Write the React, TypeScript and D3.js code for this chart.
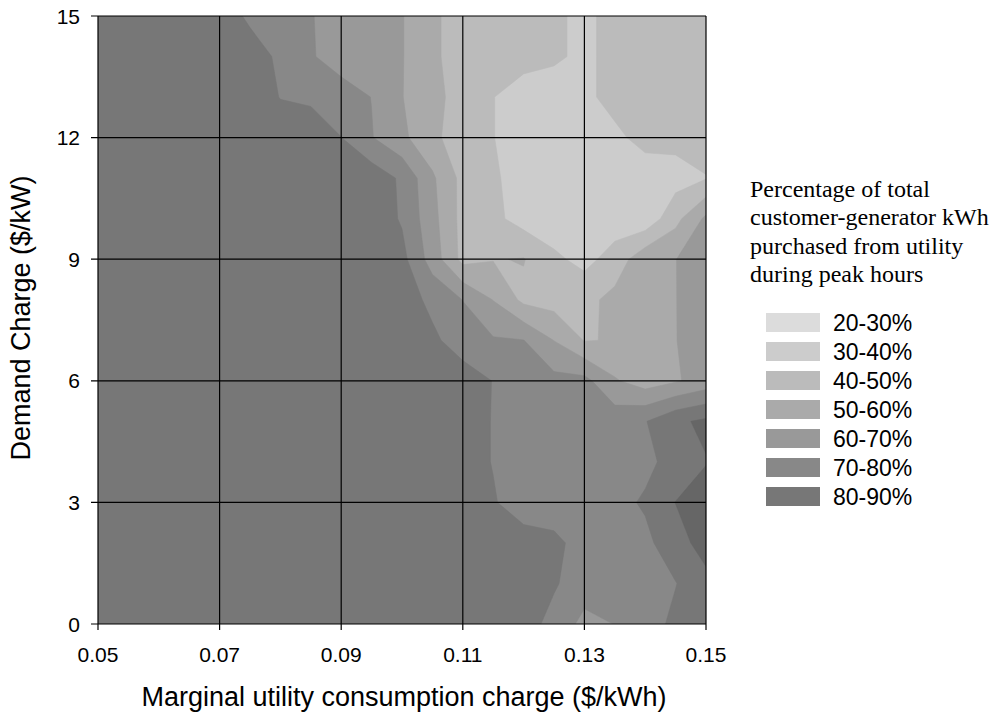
import React from "react";
import * as d3 from "d3";

// Grid axes of the sampled surface
const chargeX = [0.05, 0.055, 0.06, 0.065, 0.07, 0.075, 0.08, 0.085, 0.09, 0.095, 0.1, 0.105, 0.11, 0.115, 0.12, 0.125, 0.13, 0.135, 0.14, 0.145, 0.15];
const demandY = [15, 14, 13, 12, 11, 10, 9, 8, 7, 6, 5, 4, 3, 2, 1, 0];

// Percentage of kWh purchased during peak hours, one row per demand charge (top = 15 $/kW)
const pct15 = [85, 85, 85, 85, 83, 79, 77, 70.5, 66, 63, 60.5, 52, 45, 44, 43, 41.5, 38, 43, 44, 44, 44];
const pct14 = [85, 85, 85, 85, 85, 82.5, 79, 71, 65, 62.5, 60.5, 52, 45, 44, 43, 41.5, 38, 43, 44, 44, 44];
const pct13 = [85, 85, 85, 85, 85, 85, 79.7, 78.5, 75, 69.8, 60.3, 53, 46, 40.2, 36, 35, 38, 43, 45, 45, 45];
const pct12 = [85, 85, 85, 85, 85, 85, 85, 85, 80.1, 70.5, 62, 53, 43, 40.2, 36, 34, 34, 38, 43, 43, 45];
const pct11 = [85, 85, 85, 85, 85, 85, 85, 85, 85, 86, 78.4, 61.6, 47, 41, 37, 35, 35, 35, 35, 36, 39.5];
const pct10 = [85, 85, 85, 85, 85, 85, 85, 85, 85, 86, 79, 63.3, 46.7, 42.5, 36, 34, 34, 35, 33, 47, 62];
const pct9 = [85, 85, 85, 85, 85, 85, 85, 85, 85, 85, 83, 65.5, 47, 49.5, 50.5, 42, 37, 44, 57, 59.8, 66];
const pct8 = [85, 85, 85, 85, 85, 85, 85, 85, 85, 85, 85, 77.5, 69.8, 59.7, 47.6, 46, 47, 53, 57, 59.8, 65];
const pct7 = [85, 85, 85, 85, 85, 85, 85, 85, 85, 85, 85, 82, 75, 71, 70.2, 59.8, 49.5, 50.6, 55, 59.8, 64];
const pct6 = [85, 85, 85, 85, 85, 85, 85, 85, 85, 85, 85, 85, 85, 79.7, 76, 73, 73, 61, 55, 59, 64];
const pct5 = [85, 85, 85, 85, 85, 85, 85, 85, 85, 85, 85, 85, 85, 79.5, 76, 75, 75, 76, 79.5, 88, 92];
const pct4 = [85, 85, 85, 85, 85, 85, 85, 85, 85, 85, 85, 85, 85, 79.5, 76, 75, 75, 77, 78, 83, 89.5];
const pct3 = [85, 85, 85, 85, 85, 85, 85, 85, 85, 85, 85, 85, 85, 81, 74, 73, 74, 77.5, 81, 90.2, 95];
const pct2 = [85, 85, 85, 85, 85, 85, 85, 85, 85, 85, 85, 85, 85, 85, 85, 83, 75, 76, 78, 85, 95];
const pct1 = [85, 85, 85, 85, 85, 85, 85, 85, 85, 85, 85, 85, 85, 85, 85, 81, 75, 74, 76, 79.7, 86.4];
const pct0 = [85, 85, 85, 85, 85, 85, 85, 85, 85, 85, 85, 85, 85, 85, 84, 77, 67, 70.2, 76, 82, 86];
const pctRows = [pct15, pct14, pct13, pct12, pct11, pct10, pct9, pct8, pct7, pct6, pct5, pct4, pct3, pct2, pct1, pct0];

const xTicks = [0.05, 0.07, 0.09, 0.11, 0.13, 0.15];
const xTickLabels = ["0.05", "0.07", "0.09", "0.11", "0.13", "0.15"];
const yTicks = [0, 3, 6, 9, 12, 15];
const yTickLabels = ["0", "3", "6", "9", "12", "15"];

const thresholds = [20, 30, 40, 50, 60, 70, 80, 90];
const bandColors = ["#dcdcdc", "#cccccc", "#bbbbbb", "#aaaaaa", "#999999", "#888888", "#777777", "#666666"];
const legendLabels = ["20-30%", "30-40%", "40-50%", "50-60%", "60-70%", "70-80%", "80-90%"];
const legendTitle = ["Percentage of total", "customer-generator kWh", "purchased from utility", "during peak hours"];

const xTitle = "Marginal utility consumption charge ($/kWh)";
const yTitle = "Demand Charge ($/kW)";

export default function App() {
  const left = 98, right = 706, top = 16, bottom = 624;
  const x = d3.scaleLinear().domain([0.05, 0.15]).range([left, right]);
  const y = d3.scaleLinear().domain([0, 15]).range([bottom, top]);

  const nx = chargeX.length, ny = demandY.length;
  const gx = d3.scaleLinear().domain([0.5, nx - 0.5]).range([x(chargeX[0]), x(chargeX[nx - 1])]);
  const gy = d3.scaleLinear().domain([0.5, ny - 0.5]).range([y(demandY[0]), y(demandY[ny - 1])]);
  const proj = d3.geoTransform({
    point(px: number, py: number) {
      (this as any).stream.point(gx(px), gy(py));
    },
  });
  const path = d3.geoPath(proj as any);
  const values = pctRows.flat();
  const contours = d3.contours().size([nx, ny]).thresholds(thresholds)(values);

  const sans = "'Liberation Sans', Arial, sans-serif";
  const serif = "'Liberation Serif', 'Times New Roman', serif";

  return (
    <svg width={992} height={714} style={{ position: "absolute", left: 0, top: 0, background: "#fff" }}>
      <defs>
        <clipPath id="plotClip">
          <rect x={left} y={top} width={right - left} height={bottom - top} />
        </clipPath>
      </defs>
      <g clipPath="url(#plotClip)">
        {contours.map((c, i) => (
          <path key={i} d={path(c as any) || ""} fill={bandColors[i]} stroke={bandColors[i]} strokeWidth={0.5} />
        ))}
      </g>
      {/* grid */}
      <g stroke="#000" strokeWidth={1.2}>
        {xTicks.map((t, i) => (
          <line key={"gx" + i} x1={x(t)} x2={x(t)} y1={top} y2={bottom + 6} />
        ))}
        {yTicks.map((t, i) => (
          <line key={"gy" + i} x1={left - 7} x2={right} y1={y(t)} y2={y(t)} />
        ))}
      </g>
      {/* tick labels */}
      <g fontFamily={sans} fontSize={21} fill="#000">
        {xTicks.map((t, i) => (
          <text key={"xl" + i} x={x(t)} y={bottom + 38} textAnchor="middle">{xTickLabels[i]}</text>
        ))}
        {yTicks.map((t, i) => (
          <text key={"yl" + i} x={80} y={y(t) + 7.5} textAnchor="end">{yTickLabels[i]}</text>
        ))}
      </g>
      <text x={404} y={706} textAnchor="middle" fontFamily={sans} fontSize={27}>{xTitle}</text>
      <text transform={`translate(30,318) rotate(-90)`} textAnchor="middle" fontFamily={sans} fontSize={27}>{yTitle}</text>
      {/* legend */}
      <g fontFamily={serif} fontSize={24} fill="#000">
        {legendTitle.map((l, i) => (
          <text key={"lt" + i} x={750} y={197 + i * 28.3}>{l}</text>
        ))}
      </g>
      <g fontFamily={sans} fontSize={23} fill="#000">
        {legendLabels.map((l, i) => (
          <g key={"lg" + i}>
            <rect x={766} y={313 + i * 29} width={54} height={19} fill={bandColors[i]} />
            <text x={833} y={313 + i * 29 + 18}>{l}</text>
          </g>
        ))}
      </g>
    </svg>
  );
}
